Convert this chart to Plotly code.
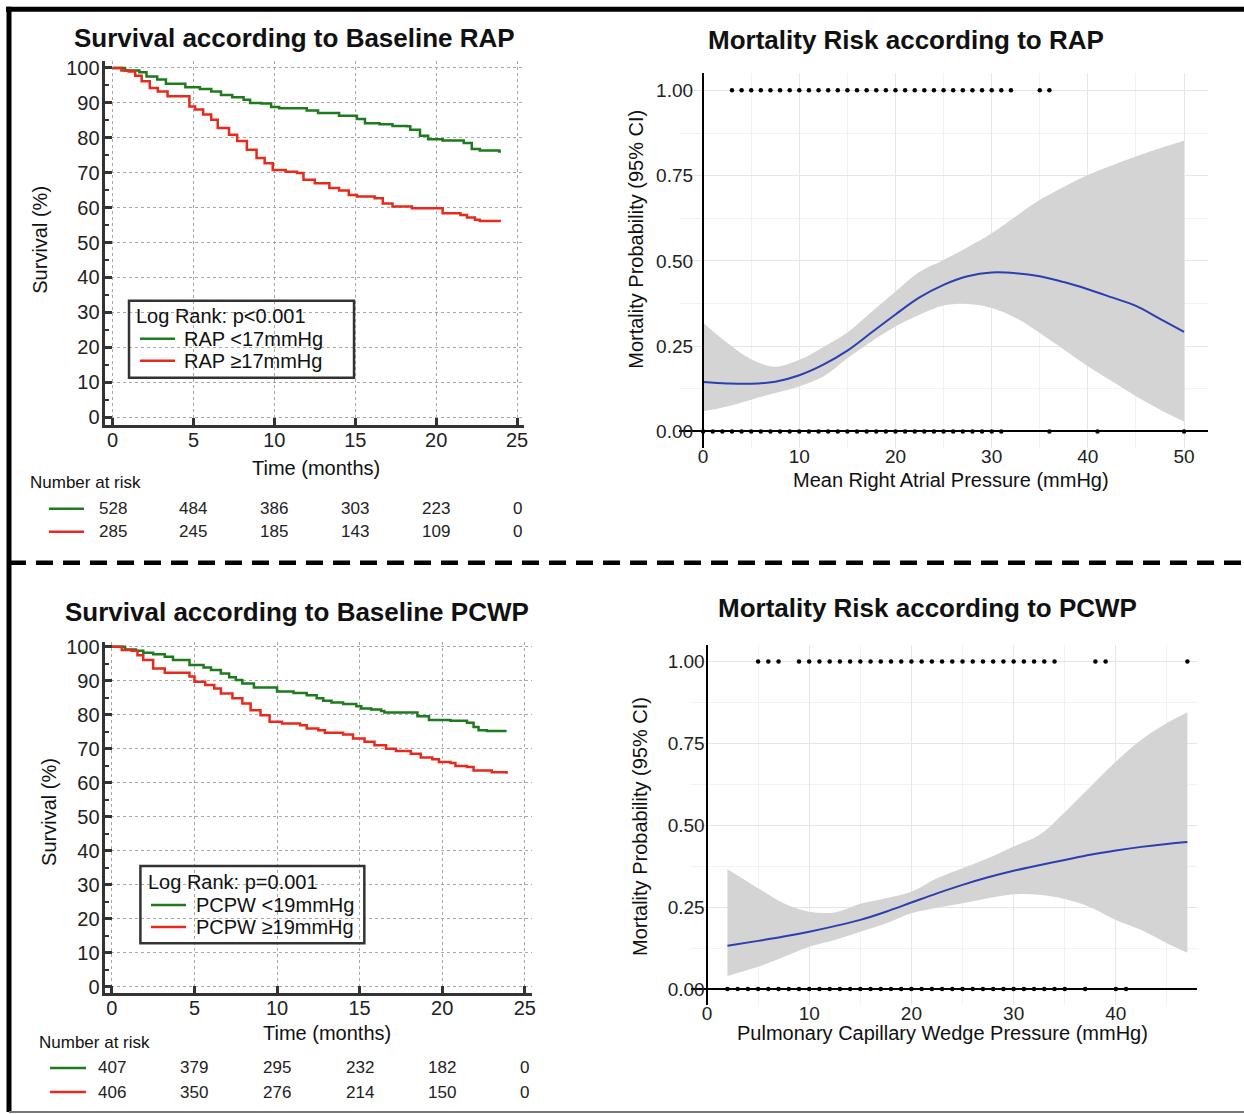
import plotly.graph_objects as go

W, H = 1244, 1114
# measured correction between the figure's layout pixels and the captured picture
SX, SY, DY = 0.9967, 0.9907, 6.35
FONT = "Liberation Sans, Arial, sans-serif"
GREEN = "#1d7a1d"
RED = "#e8291c"
BLUE = "#2b3fae"
CI_FILL = "#d4d4d4"

# ---------------- data: Kaplan-Meier, RAP ----------------
rap_low_t = [0, 0.77, 1.66, 2.1, 2.76, 3.3, 4.5, 5.4, 6.1, 6.7, 7.4, 8.1, 8.5, 9.2, 9.8, 10.3, 12.0, 12.7,
             14.0, 15.1, 15.6, 16.5, 17.3, 18.2, 18.4, 19.0, 19.5, 20.4, 21.7, 22.2, 22.7, 23.9, 24.0]
rap_low_s = [100, 99.3, 98.8, 97.6, 96.7, 95.5, 94.5, 94.0, 93.3, 92.3, 91.6, 90.9, 90.0, 89.8, 88.8, 88.5,
             87.8, 87.1, 86.3, 85.4, 84.2, 83.9, 83.4, 83.3, 82.3, 80.6, 79.6, 79.2, 78.5, 76.8, 76.4, 76.1, 76.1]
rap_high_t = [0, 0.55, 1.0, 1.4, 1.8, 2.3, 2.8, 3.4, 4.75, 5.1, 5.6, 6.1, 6.5, 7.2, 7.7, 8.3, 8.9, 9.4, 9.9,
              10.7, 11.4, 11.8, 12.5, 13.4, 14.0, 14.6, 15.1, 16.2, 16.7, 17.3, 18.5, 20.4, 21.5, 21.9, 22.4,
              22.7, 24.0]
rap_high_s = [100, 99.3, 99.0, 97.8, 96.2, 94.3, 93.3, 91.9, 89.0, 88.1, 86.7, 85.2, 82.8, 80.9, 79.1, 76.6,
              74.2, 72.7, 70.8, 70.3, 69.9, 68.0, 67.0, 65.6, 64.9, 63.6, 63.2, 62.7, 61.2, 60.3, 59.8, 58.4,
              57.9, 57.2, 56.5, 56.2, 56.2]

# ---------------- data: Kaplan-Meier, PCWP ----------------
pcwp_low_t = [0, 0.8, 1.45, 1.9, 2.5, 3.2, 3.7, 4.7, 5.55, 6.0, 6.6, 7.1, 7.5, 7.9, 8.6, 10.0, 11.0, 11.8,
              12.4, 12.8, 13.3, 14.0, 14.8, 15.1, 15.7, 16.3, 16.5, 18.5, 19.2, 20.5, 21.5, 21.9, 22.2, 22.7, 23.9]
pcwp_low_s = [100, 99.2, 98.8, 98.2, 97.8, 97.0, 96.1, 94.6, 93.9, 93.1, 92.1, 91.0, 90.2, 89.2, 88.0, 86.8,
              86.4, 85.7, 84.8, 84.1, 83.6, 83.1, 82.5, 81.8, 81.5, 81.1, 80.6, 79.5, 78.4, 78.2, 77.6, 76.4,
              75.4, 75.2, 75.2]
pcwp_high_t = [0, 0.6, 1.2, 1.55, 1.9, 2.5, 3.2, 4.7, 5.0, 5.65, 6.2, 6.6, 7.3, 7.9, 8.4, 9.0, 9.55, 10.3,
               11.4, 11.8, 12.5, 12.9, 14.0, 14.6, 15.3, 15.9, 16.6, 17.2, 18.1, 18.7, 19.4, 19.8, 20.5, 20.8,
               21.5, 21.9, 23.0, 23.9]
pcwp_high_s = [100, 99.0, 98.8, 97.5, 96.1, 93.6, 92.3, 91.2, 89.7, 88.7, 87.7, 86.2, 84.8, 83.3, 81.3, 79.8,
               77.9, 77.4, 76.9, 75.9, 75.4, 74.7, 74.2, 73.0, 72.0, 71.0, 70.0, 69.3, 68.5, 67.4, 66.9, 66.1,
               65.8, 64.9, 64.6, 63.6, 63.1, 62.6]

# ---------------- numbers at risk ----------------
risk_times = [0, 5, 10, 15, 20, 25]
rap_risk_low = [528, 484, 386, 303, 223, 0]
rap_risk_high = [285, 245, 185, 143, 109, 0]
pcwp_risk_low = [407, 379, 295, 232, 182, 0]
pcwp_risk_high = [406, 350, 276, 214, 150, 0]

# ---------------- data: logistic fit, RAP ----------------
rap_x = [0, 2.5, 5, 7.5, 10, 12.5, 15, 17.5, 20, 22.5, 25, 27.5, 30, 32.5, 35, 37.5, 40, 42.5, 45, 47.5, 50]
rap_fit = [0.145, 0.141, 0.140, 0.146, 0.165, 0.196, 0.237, 0.290, 0.343, 0.393, 0.430, 0.455, 0.466, 0.464,
           0.455, 0.438, 0.417, 0.393, 0.368, 0.330, 0.292]
rap_upper = [0.319, 0.260, 0.212, 0.190, 0.210, 0.248, 0.290, 0.350, 0.410, 0.468, 0.503, 0.540, 0.581, 0.630,
             0.679, 0.717, 0.752, 0.780, 0.806, 0.830, 0.852]
rap_lower = [0.059, 0.073, 0.093, 0.113, 0.132, 0.161, 0.215, 0.264, 0.308, 0.342, 0.369, 0.374, 0.362, 0.333,
             0.289, 0.240, 0.191, 0.147, 0.103, 0.064, 0.029]
rap_events_x = [3, 4, 5, 6, 7, 8, 9, 10, 11, 12, 13, 14, 15, 16, 17, 18, 19, 20, 21, 22, 23, 24, 25, 26, 27,
                28, 29, 30, 31, 32, 35, 36]
rap_alive_x = [0, 1, 2, 3, 4, 5, 6, 7, 8, 9, 10, 11, 12, 13, 14, 15, 16, 17, 18, 19, 20, 21, 22, 23, 24, 25,
               26, 27, 28, 29, 30, 31, 36, 41, 50]

# ---------------- data: logistic fit, PCWP ----------------
pcwp_x = [2, 5, 7.5, 10, 12.5, 15, 17.5, 20, 22.5, 25, 27.5, 30, 32.5, 35, 37.5, 40, 42.5, 45, 47]
pcwp_fit = [0.132, 0.147, 0.160, 0.175, 0.192, 0.211, 0.236, 0.264, 0.292, 0.318, 0.341, 0.361, 0.378, 0.394,
            0.410, 0.423, 0.434, 0.443, 0.449]
pcwp_upper = [0.366, 0.308, 0.262, 0.236, 0.234, 0.260, 0.277, 0.297, 0.338, 0.369, 0.399, 0.435, 0.470, 0.540,
              0.618, 0.694, 0.761, 0.812, 0.844]
pcwp_lower = [0.040, 0.068, 0.098, 0.129, 0.150, 0.175, 0.200, 0.231, 0.248, 0.262, 0.277, 0.289, 0.288, 0.275,
              0.250, 0.211, 0.180, 0.140, 0.111]
pcwp_events_x = [5, 6, 7, 9, 10, 11, 12, 13, 14, 15, 16, 17, 18, 19, 20, 21, 22, 23, 24, 25, 26, 27, 28, 29,
                 30, 31, 32, 33, 34, 38, 39, 47]
pcwp_alive_x = [2, 3, 4, 5, 6, 7, 8, 9, 10, 11, 12, 13, 14, 15, 16, 17, 18, 19, 20, 21, 22, 23, 24, 25, 26,
                27, 28, 29, 30, 31, 32, 33, 34, 35, 37, 40, 41]

# legend / label texts
rap_legend_title = "Log Rank: p<0.001"
rap_names = ["RAP <17mmHg", "RAP \u226517mmHg"]
pcwp_legend_title = "Log Rank: p=0.001"
pcwp_names = ["PCPW <19mmHg", "PCPW \u226519mmHg"]


def px(x):
    return (x / SX) / W


def py(y):
    return 1 - ((y - DY) / SY) / H


fig = go.Figure()

# ---- KM traces ----
fig.add_trace(go.Scatter(x=rap_low_t, y=rap_low_s, mode="lines", name=rap_names[0], showlegend=False,
                         line=dict(color=GREEN, width=2.5, shape="hv"), xaxis="x", yaxis="y"))
fig.add_trace(go.Scatter(x=rap_high_t, y=rap_high_s, mode="lines", name=rap_names[1], showlegend=False,
                         line=dict(color=RED, width=2.5, shape="hv"), xaxis="x", yaxis="y"))
fig.add_trace(go.Scatter(x=pcwp_low_t, y=pcwp_low_s, mode="lines", name=pcwp_names[0], showlegend=False,
                         line=dict(color=GREEN, width=2.5, shape="hv"), xaxis="x3", yaxis="y3"))
fig.add_trace(go.Scatter(x=pcwp_high_t, y=pcwp_high_s, mode="lines", name=pcwp_names[1], showlegend=False,
                         line=dict(color=RED, width=2.5, shape="hv"), xaxis="x3", yaxis="y3"))


# ---- logistic traces ----
def add_logit(xs, fit, lo, hi, ev, al, xa, ya):
    fig.add_trace(go.Scatter(x=xs, y=lo, mode="lines", line=dict(width=0, color=CI_FILL, shape="spline"),
                             showlegend=False, xaxis=xa, yaxis=ya, hoverinfo="skip"))
    fig.add_trace(go.Scatter(x=xs, y=hi, mode="lines", line=dict(width=0, color=CI_FILL, shape="spline"),
                             fill="tonexty", fillcolor=CI_FILL, showlegend=False, xaxis=xa, yaxis=ya,
                             hoverinfo="skip"))
    fig.add_trace(go.Scatter(x=xs, y=fit, mode="lines", line=dict(color=BLUE, width=2, shape="spline"),
                             showlegend=False, xaxis=xa, yaxis=ya))
    fig.add_trace(go.Scatter(x=ev, y=[1] * len(ev), mode="markers", marker=dict(color="black", size=4.5),
                             showlegend=False, xaxis=xa, yaxis=ya))
    fig.add_trace(go.Scatter(x=al, y=[0] * len(al), mode="markers", marker=dict(color="black", size=4.5),
                             showlegend=False, xaxis=xa, yaxis=ya))


add_logit(rap_x, rap_fit, rap_lower, rap_upper, rap_events_x, rap_alive_x, "x2", "y2")
add_logit(pcwp_x, pcwp_fit, pcwp_lower, pcwp_upper, pcwp_events_x, pcwp_alive_x, "x4", "y4")

km_font = dict(family=FONT, size=20, color="#222")
lg_font = dict(family=FONT, size=19, color="#222")


def km_x(dom, rng, anchor):
    return dict(domain=dom, range=rng, anchor=anchor, tickvals=[0, 5, 10, 15, 20, 25], ticks="inside",
                ticklen=7, tickwidth=2.5, tickcolor="#333", showline=True, linewidth=3, linecolor="#333",
                showgrid=True, gridcolor="#a8a8a8", griddash="dot", gridwidth=1, zeroline=False,
                tickfont=km_font, ticklabelstandoff=-5)


def km_y(dom, rng, anchor):
    return dict(domain=dom, range=rng, anchor=anchor, tickvals=list(range(0, 101, 10)), ticks="inside",
                ticklen=7, tickwidth=2.5, tickcolor="#333", showline=True, linewidth=3, linecolor="#333",
                showgrid=True, gridcolor="#a8a8a8", griddash="dot", gridwidth=1, zeroline=False,
                tickfont=km_font, ticklabelstandoff=-2,
                minor=dict(dtick=5, tick0=0, ticks="inside", ticklen=4, tickwidth=1.5, tickcolor="#333",
                           showgrid=False))


def lg_x(dom, rng, anchor):
    return dict(domain=dom, range=rng, anchor=anchor, tickvals=[0, 10, 20, 30, 40, 50], ticks="",
                showline=False, showgrid=True, gridcolor="#e6e6e6", gridwidth=1,
                zeroline=True, zerolinecolor="black", zerolinewidth=2, zerolinelayer="above traces",
                tickfont=lg_font, ticklabelstandoff=-5,
                minor=dict(dtick=5, tick0=0, showgrid=True, gridcolor="#f2f2f2", gridwidth=1))


def lg_y(dom, rng, anchor):
    return dict(domain=dom, range=rng, anchor=anchor, tickvals=[0, 0.25, 0.5, 0.75, 1.0], tickformat=".2f",
                ticks="", showline=False, showgrid=True, gridcolor="#e6e6e6", gridwidth=1,
                zeroline=True, zerolinecolor="black", zerolinewidth=2, zerolinelayer="above traces",
                tickfont=lg_font, ticklabelstandoff=-15,
                minor=dict(dtick=0.125, tick0=0, showgrid=True, gridcolor="#f2f2f2", gridwidth=1))


fig.update_layout(
    width=W, height=H, autosize=False, margin=dict(l=0, r=0, t=0, b=0),
    paper_bgcolor="white", plot_bgcolor="white", showlegend=False,
    font=dict(family=FONT, size=18, color="#111"),
    xaxis=km_x([px(104.6), px(524)], [-0.49, 25.43], "y"),
    yaxis=km_y([py(425), py(61.7)], [-2.2, 101.9], "x"),
    xaxis2=lg_x([px(679), px(1208)], [-2.5, 52.5], "y2"),
    yaxis2=lg_y([py(448.7), py(73.3)], [-0.0499, 1.051], "x2"),
    xaxis3=km_x([px(104.6), px(532)], [-0.44, 25.44], "y3"),
    yaxis3=km_y([py(993.3), py(641.7)], [-1.94, 101.5], "x3"),
    xaxis4=lg_x([px(690.6), px(1197.2)], [-1.6, 47.97], "y4"),
    yaxis4=lg_y([py(1005.4), py(645.3)], [-0.05, 1.05], "x4"),
)

ann = []


def txt(x, y, s, size=20, bold=False, angle=0, xanchor="center", color="#111", xref="paper"):
    ann.append(dict(x=x if xref != "paper" else px(x), y=py(y), xref=xref, yref="paper",
                    text=("<b>%s</b>" % s) if bold else s, showarrow=False, textangle=angle,
                    xanchor=xanchor, yanchor="middle", font=dict(family=FONT, size=size, color=color)))


# titles
txt(294.5, 38, "Survival according to Baseline RAP", 26, True)
txt(906, 40, "Mortality Risk according to RAP", 26, True)
txt(296.5, 612, "Survival according to Baseline PCWP", 26, True)
txt(927.5, 608, "Mortality Risk according to PCWP", 26, True)
# axis titles
txt(40, 240, "Survival (%)", 20, angle=-90)
txt(315.5, 468, "Time (months)", 20)
txt(636, 240, "Mortality Probability (95% CI)", 20, angle=-90)
txt(951, 480, "Mean Right Atrial Pressure (mmHg)", 20)
txt(49, 812, "Survival (%)", 20, angle=-90)
txt(327, 1033, "Time (months)", 20)
txt(640, 827, "Mortality Probability (95% CI)", 20, angle=-90)
txt(942.5, 1033, "Pulmonary Capillary Wedge Pressure (mmHg)", 20)
# legends (boxed, inside the KM panels)
txt(134, 316, rap_legend_title, 20, xanchor="left")
txt(182, 339, rap_names[0], 20, xanchor="left")
txt(182, 361, rap_names[1], 20, xanchor="left")
txt(145.5, 882, pcwp_legend_title, 20, xanchor="left")
txt(194, 905, pcwp_names[0], 20, xanchor="left")
txt(194, 927, pcwp_names[1], 20, xanchor="left")
# number at risk
txt(85, 483, "Number at risk", 17)
txt(94, 1043, "Number at risk", 17)
for t, a, b in zip(risk_times, rap_risk_low, rap_risk_high):
    txt(t, 509, str(a), 17, xref="x", color="#222")
    txt(t, 532, str(b), 17, xref="x", color="#222")
for t, a, b in zip(risk_times, pcwp_risk_low, pcwp_risk_high):
    txt(t, 1068, str(a), 17, xref="x3", color="#222")
    txt(t, 1092, str(b), 17, xref="x3", color="#222")
fig.update_layout(annotations=ann)

shapes = []


def seg(x0, y0, x1, y1, color, width, dash="solid"):
    shapes.append(dict(type="line", xref="paper", yref="paper", x0=px(x0), y0=py(y0), x1=px(x1), y1=py(y1),
                       line=dict(color=color, width=width, dash=dash)))


def box(x0, y0, x1, y1):
    shapes.append(dict(type="rect", xref="paper", yref="paper", x0=px(x0), x1=px(x1), y0=py(y1), y1=py(y0),
                       line=dict(color="#333", width=2.5), fillcolor="rgba(0,0,0,0)"))


# legend boxes and swatches
box(129, 301, 354, 378)
seg(140, 339, 175, 339, GREEN, 2.5)
seg(140, 361, 175, 361, RED, 2.5)
box(140.4, 866, 364.3, 943.3)
seg(151, 905, 186, 905, GREEN, 2.5)
seg(151, 927, 186, 927, RED, 2.5)
# at-risk row swatches
seg(49, 509, 84, 509, GREEN, 2.5)
seg(49, 532, 84, 532, RED, 2.5)
seg(50, 1068, 86, 1068, GREEN, 2.5)
seg(50, 1092, 86, 1092, RED, 2.5)
# frame
seg(6, 9.5, 1250, 9.5, "black", 5)
seg(9, 7, 9, 1112, "black", 5)
seg(9, 1112, 1250, 1112, "#777", 2)
seg(9, 563, 1250, 563, "black", 4.5, dash="17px,10px")
fig.update_layout(shapes=shapes)

# the page's default body margin would push the figure off its 1244x1114 frame
page_js = ("document.documentElement.style.margin='0';document.body.style.margin='0';"
           "document.documentElement.style.overflow='hidden';document.body.style.overflow='hidden';")
fig.write_html("out.html", post_script=page_js, config={"displayModeBar": False})
